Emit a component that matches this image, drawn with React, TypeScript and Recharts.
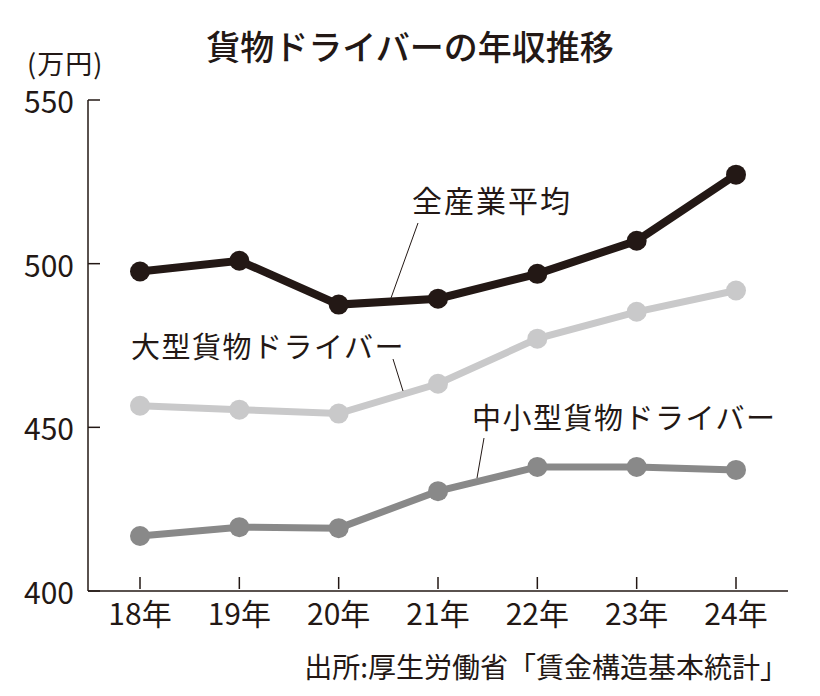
import { LineChart, Line, XAxis, YAxis } from 'recharts';

// 貨物ドライバーの年収推移（万円）
const years = ['18年', '19年', '20年', '21年', '22年', '23年', '24年'];
const allIndustry = [497.6, 500.9, 487.5, 489.3, 496.9, 507.0, 527.2];
const largeDriver = [456.6, 455.4, 454.2, 463.3, 477.1, 485.3, 491.8];
const smallDriver = [416.8, 419.5, 419.2, 430.5, 437.9, 437.9, 437.0];
const yTicks = [400, 450, 500, 550];

const data = years.map((year, i) => ({
  year,
  all: allIndustry[i],
  large: largeDriver[i],
  small: smallDriver[i],
}));

const FONT = "'Noto Sans CJK JP', 'Noto Sans', sans-serif";
const INK = '#231815';
const LIGHT = '#c9c9ca';
const MID = '#898989';

const YTick = ({ x, y, payload }: any) => (
  <g>
    <line x1={x + 14} y1={y} x2={x + 26} y2={y} stroke={INK} strokeWidth={1.5} />
    <text x={x} y={y} textAnchor="end" dominantBaseline="central" fontSize={30} fill={INK} fontFamily={FONT}>
      {payload.value}
    </text>
  </g>
);

const XTick = ({ x, y, payload }: any) => (
  <g>
    <line x1={x} y1={y - 10} x2={x} y2={y - 22} stroke={INK} strokeWidth={1.5} />
    <text x={x} y={y} dy="0.88em" textAnchor="middle" fontSize={30} fill={INK} fontFamily={FONT}>
      {payload.value}
    </text>
  </g>
);

const App = () => {
  return (
    <div style={{ position: 'absolute', left: 0, top: 0, width: 820, height: 696, background: '#fff' }}>
      <LineChart
        width={820}
        height={696}
        data={data}
        margin={{ top: 100, right: 32, bottom: 65, left: 28 }}
      >
        <XAxis
          dataKey="year"
          height={40}
          padding={{ left: 52, right: 52 }}
          axisLine={{ stroke: INK, strokeWidth: 1.5 }}
          tickLine={false}
          tickSize={0}
          tickMargin={8}
          tick={<XTick />}
          interval={0}
        />
        <YAxis
          width={60}
          domain={[400, 550]}
          ticks={yTicks}
          axisLine={{ stroke: INK, strokeWidth: 1.5 }}
          tickLine={false}
          tickSize={0}
          tickMargin={14}
          tick={<YTick />}
        />
        <Line
          dataKey="small"
          stroke={MID}
          strokeWidth={7}
          dot={{ r: 10, fill: MID, stroke: 'none' }}
          isAnimationActive={false}
        />
        <Line
          dataKey="large"
          stroke={LIGHT}
          strokeWidth={7}
          dot={{ r: 10, fill: LIGHT, stroke: 'none' }}
          isAnimationActive={false}
        />
        <Line
          dataKey="all"
          stroke={INK}
          strokeWidth={8}
          dot={{ r: 10, fill: INK, stroke: 'none' }}
          isAnimationActive={false}
        />
      </LineChart>

      {/* title, unit, series labels, source */}
      <svg
        width={820}
        height={696}
        style={{ position: 'absolute', left: 0, top: 0, pointerEvents: 'none' }}
        fontFamily={FONT}
        fill={INK}
      >
        <text x={410} y={45} textAnchor="middle" dominantBaseline="central" fontSize={34} fontWeight={500}>
          貨物ドライバーの年収推移
        </text>
        <text x={27} y={62} dominantBaseline="central" fontSize={27} letterSpacing={1}>
          (万円)
        </text>

        <text x={412} y={199} dominantBaseline="central" fontSize={30} letterSpacing={2}>
          全産業平均
        </text>
        <line x1={418} y1={223} x2={391} y2={298} stroke={INK} strokeWidth={1} />

        <text x={131} y={345} dominantBaseline="central" fontSize={29} letterSpacing={1.5}>
          大型貨物ドライバー
        </text>
        <line x1={393} y1={359} x2={403} y2={391} stroke={INK} strokeWidth={1} />

        <text x={472} y={416} dominantBaseline="central" fontSize={29} letterSpacing={1.5}>
          中小型貨物ドライバー
        </text>
        <line x1={484} y1={438} x2={477} y2={478} stroke={INK} strokeWidth={1} />

        <text x={788} y={666} textAnchor="end" dominantBaseline="central" fontSize={28}>
          出所:厚生労働省「賃金構造基本統計」
        </text>
      </svg>
    </div>
  );
};

export default App;
